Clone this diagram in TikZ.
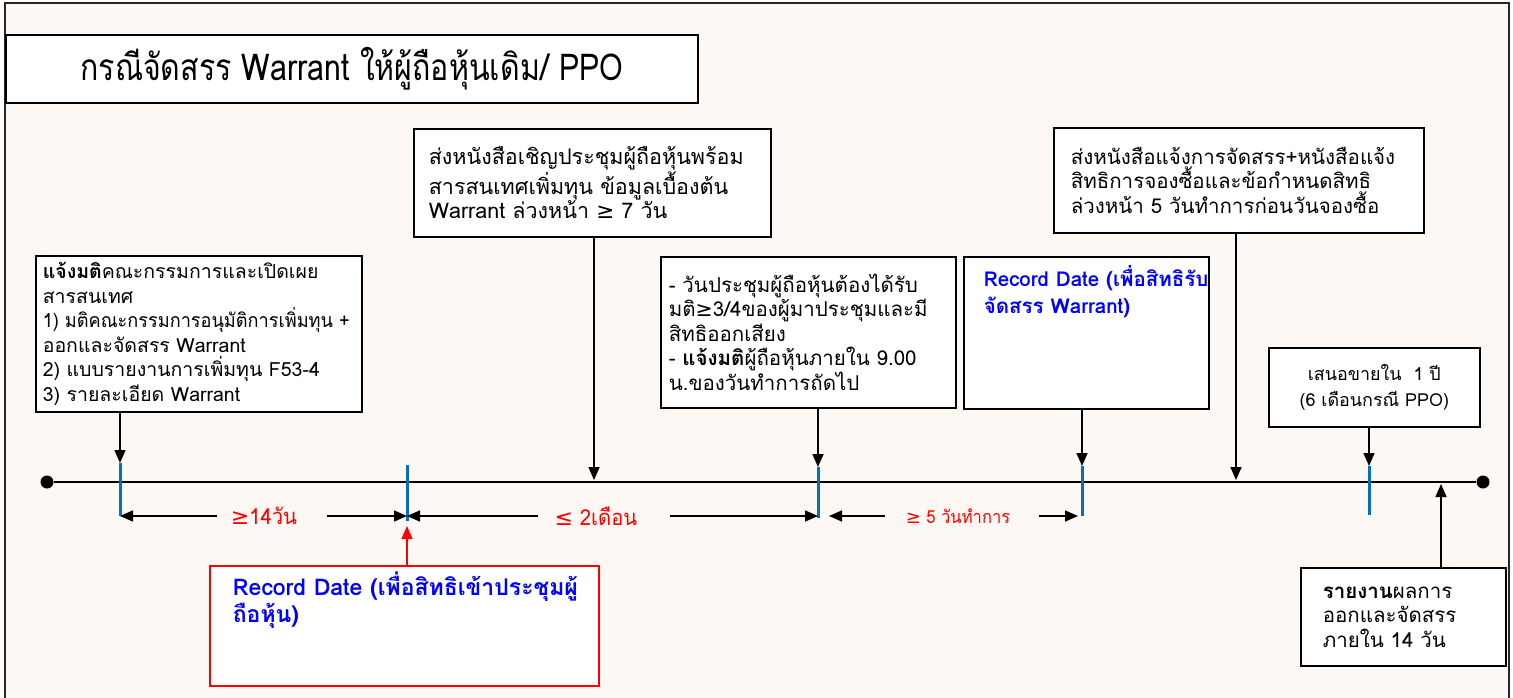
\documentclass[tikz,border=0pt]{standalone}
\usepackage{graphicx}
\usepackage{fontspec}
\setmainfont[Script=Thai]{Loma}
\newfontfamily\titlefont[Script=Thai,FakeStretch=0.82]{Loma}
\newfontfamily\narrowfont[Script=Thai,FakeStretch=0.92]{Loma}
\newfontfamily\symfont{DejaVu Sans}
\newcommand{\geqsym}{{\symfont ≥}}
\newcommand{\leqsym}{{\symfont ≤}}
\usetikzlibrary{arrows.meta,positioning}
\definecolor{bgcream}{RGB}{253,248,243}
\definecolor{tickblue}{RGB}{0,112,192}
\definecolor{rdblue}{RGB}{0,0,255}

\begin{document}
\begin{tikzpicture}[%
      x=1pt, y=-1pt,                          % pixel-like units, y grows down
      >={Triangle[length=13pt,width=11pt]},   % big filled heads
      font=\fontsize{20.5}{24.5}\selectfont,
      ]
  \tikzset{
    box/.style={draw, fill=white, line width=1.6pt, anchor=north west, align=left, inner ysep=0pt},
    redbox/.style={box, draw=red},
    rdtext/.style={text=rdblue},
    tick/.style={draw=tickblue, line width=3pt},
    dot/.style={circle, fill, inner sep=0pt, minimum size=13pt},
    gap/.style={text=red, inner sep=0pt, font=\narrowfont\fontsize{22}{24}\selectfont},
    norm/.style={->, draw, line width=1.5pt},
    cong/.style={->, draw=red, line width=1.5pt},
  }

  % Background and frame
  \fill[white] (0,0) rectangle (1513,697);
  \useasboundingbox (0,0) rectangle (1513,697);
  \fill[bgcream] (5,3) rectangle (1509,720);
  \draw[line width=2pt, black!85] (5,3) rectangle (1509,720);

  % Title
  \node[box, minimum width=692pt, minimum height=68pt, align=center,
        font=\titlefont\fontsize{37}{40}\selectfont] (title) at (5,34)
        {กรณีจัดสรร Warrant ให้ผู้ถือหุ้นเดิม/ PPO};

  % Time line
  \node[dot] (s) at (47,482) {};
  \node[dot] (e) at (1483,482) {};
  \draw[line width=2.5pt] (s) -- (e);

  % Ticks on the line
  \coordinate (ta1) at (120,463);  \coordinate (tb1) at (120,516);
  \coordinate (ta2) at (407,465);  \coordinate (tb2) at (407,521);
  \coordinate (ta3) at (818,467);  \coordinate (tb3) at (818,518);
  \coordinate (ta4) at (1082,466); \coordinate (tb4) at (1082,516);
  \coordinate (ta5) at (1369,466); \coordinate (tb5) at (1369,515);
  \foreach \t in {1,...,5}
    \draw[tick] (ta\t) -- (tb\t);

  % Other points on the line
  \coordinate (m2) at (594,480);
  \coordinate (m5) at (1236,480);
  \coordinate (m7) at (1441,484);
  \coordinate (r2) at (407,526);

  % Boxes above the line
  \node[box, minimum width=326pt, minimum height=156pt, inner xsep=7pt, text width=312pt,
        font=\fontsize{19.5}{24.5}\selectfont] (notify) at (35,255)
    {\textbf{แจ้งมติ}คณะกรรมการและเปิดเผย\\สารสนเทศ\\\scalebox{0.93}[1]{1)~มติคณะกรรมการอนุมัติการเพิ่มทุน~+}\\ออกและจัดสรร~Warrant\\2)~แบบรายงานการเพิ่มทุน~F53-4\\3)~รายละเอียด~Warrant};
  \node[box, minimum width=357pt, minimum height=108pt, inner xsep=15pt, text width=327pt,
        font=\fontsize{21.5}{24.5}\selectfont] (invite) at (413,128)
    {ส่งหนังสือเชิญประชุมผู้ถือหุ้นพร้อม\\สารสนเทศเพิ่มทุน~ข้อมูลเบื้องต้น\\Warrant~ล่วงหน้า~\geqsym~7~วัน};
  \node[box, minimum width=295pt, minimum height=151pt, inner xsep=8pt, text width=279pt] (meeting) at (660,256)
    {-~วันประชุมผู้ถือหุ้นต้องได้รับ\\มติ\geqsym3/4ของผู้มาประชุมและมี\\สิทธิออกเสียง\\-~\textbf{แจ้งมติ}ผู้ถือหุ้นภายใน~9.00\\น.ของวันทำการถัดไป};
  \node[box, inner sep=0pt, rdtext] (rdwar) at (963,256)
    {\hspace*{20pt}\parbox[c][152pt][t]{225pt}{\raggedright\bfseries\fontsize{20.5}{27}\selectfont
      \vspace*{9pt}Record Date (เพื่อสิทธิรับ\\จัดสรร Warrant)}};
  \node[box, minimum width=370pt, minimum height=105pt, inner xsep=17pt, text width=336pt] (allot) at (1053,127)
    {ส่งหนังสือแจ้งการจัดสรร+หนังสือแจ้ง\\สิทธิการจองซื้อและข้อกำหนดสิทธิ\\ล่วงหน้า~5~วันทำการก่อนวันจองซื้อ};
  \node[box, minimum width=211pt, minimum height=79pt, inner xsep=5pt, text width=201pt, align=center,
        font=\fontsize{17.9}{26}\selectfont] (offer) at (1268,347)
    {เสนอขายใน~~1~ปี\\(6~เดือนกรณี~PPO)};

  % Boxes below the line
  \node[redbox, inner sep=0pt, rdtext] (rdmeet) at (209,565)
    {\hspace*{23pt}\parbox[c][120pt][t]{366pt}{\raggedright\bfseries\fontsize{23}{27}\selectfont
      \vspace*{6pt}Record Date (เพื่อสิทธิเข้าประชุมผู้\\ถือหุ้น)}};
  \node[box, minimum width=205pt, minimum height=98pt, inner xsep=22pt, text width=161pt] (report) at (1300,567)
    {\textbf{รายงาน}ผลการ\\ออกและจัดสรร\\ภายใน~14~วัน};

  % Boxes to the line
  \draw[norm] (notify.south -| ta1) -- (ta1);
  \draw[norm] (invite.south -| m2) -- (m2);
  \draw[norm] (meeting.south -| ta3) -- (ta3);
  \draw[norm] (rdwar.south -| ta4) -- (ta4);
  \draw[norm] (allot.south -| m5) -- (m5);
  \draw[norm] (offer.south -| ta5) -- (ta5);
  \draw[norm] (report.north -| m7) -- (m7);
  \draw[cong] (rdmeet.north -| r2) -- (r2);

  % Gaps between the ticks
  \coordinate (g1) at (120,516);
  \coordinate (g2) at (407,516);
  \coordinate (g3) at (818,516);
  \coordinate (g4) at (1082,516);
  \node[gap] (l1) at (264,516) {\geqsym14วัน};
  \node[gap] (l2) at (596,516) {\leqsym{} 2เดือน};
  \node[gap, font=\narrowfont\fontsize{18}{20}\selectfont] (l3) at (958,516) {\geqsym{} 5 วันทำการ};
  \draw[norm, shorten <=14pt] (l1.west |- g1) -- (g1);
  \draw[norm, shorten <=30pt] (l1.east |- g1) -- (g2);
  \draw[norm, shorten <=17pt] (l2.west |- g2) -- (g2);
  \draw[norm, shorten <=33pt] (l2.east |- g2) -- (g3);
  \draw[norm, shorten <=21pt, shorten >=11pt] (l3.west |- g3) -- (g3);
  \draw[norm, shorten <=29pt, shorten >=4pt] (l3.east |- g4) -- (g4);
\end{tikzpicture}
\end{document}
